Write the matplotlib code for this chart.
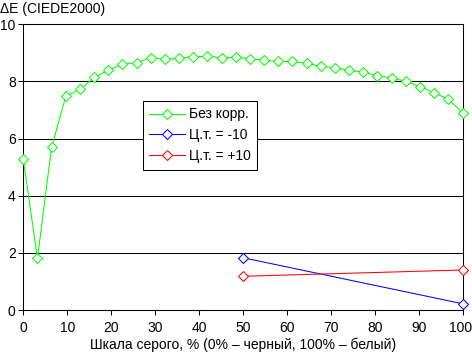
import matplotlib
matplotlib.use("Agg")
import matplotlib.pyplot as plt
import numpy as np

plt.rcParams['font.family'] = ['Liberation Sans', 'DejaVu Sans']

# Data
n_points = 32
x_green = [i * 100 / 31 for i in range(n_points)]
y_green = [5.27, 1.81, 5.70, 7.48, 7.72, 8.14, 8.39, 8.60, 8.66, 8.83,
           8.77, 8.81, 8.87, 8.88, 8.83, 8.84, 8.80, 8.74, 8.70, 8.70,
           8.63, 8.53, 8.48, 8.39, 8.33, 8.20, 8.13, 8.00, 7.82, 7.61,
           7.37, 6.91]
x_blue = [50, 100]
y_blue = [1.83, 0.22]
x_red = [50, 100]
y_red = [1.18, 1.40]
labels = ["Без корр.", "Ц.т. = -10", "Ц.т. = +10"]
xticks = [0, 10, 20, 30, 40, 50, 60, 70, 80, 90, 100]
yticks = [0, 2, 4, 6, 8, 10]

W, H = 472, 353
fig = plt.figure(figsize=(W / 100, H / 100), dpi=100)
l, r, t, b = 23.3, 462.5, 24.3, 310
ax = fig.add_axes([l / W, 1 - b / H, (r - l) / W, (b - t) / H])

lw = 0.75
mk = dict(marker='D', markersize=4.6, markerfacecolor='white', markeredgewidth=0.75,
          linewidth=lw, clip_on=False, zorder=3)
ax.plot(x_green, y_green, color='#00FF00', markeredgecolor='#00FF00', label=labels[0], **mk)
ax.plot(x_blue, y_blue, color='#0000FF', markeredgecolor='#0000FF', label=labels[1], **mk)
ax.plot(x_red, y_red, color='#FF0000', markeredgecolor='#FF0000', label=labels[2], **mk)

ax.set_xlim(0, 100)
ax.set_ylim(0, 10)
ax.set_xticks(xticks)
ax.set_yticks(yticks)
ax.yaxis.grid(True, color='black', linewidth=lw)
ax.set_axisbelow(True)
for s in ax.spines.values():
    s.set_linewidth(lw)
    s.set_color('black')
ax.tick_params(axis='both', direction='out', length=3.5, width=lw, labelsize=10, colors='black')
ax.tick_params(axis='x', pad=4.5)
ax.tick_params(axis='y', pad=2)
# keep the last x label inside the figure
xt_labels = ax.get_xticklabels()

fig.text(0, 1 - 9 / H, "ΔE (CIEDE2000)", fontsize=10, va='center', ha='left')
fig.text((l + r) / 2 / W, 1 - 345 / H, "Шкала серого, % (0% – черный, 100% – белый)",
         fontsize=10, va='center', ha='center')

leg = ax.legend(loc='upper left', bbox_to_anchor=(0.272, 0.731), fontsize=10,
                frameon=True, fancybox=False, shadow=False, framealpha=1,
                edgecolor='black', handlelength=2.6, handletextpad=0.3,
                borderpad=0.45, labelspacing=0.5, borderaxespad=0)
leg.get_frame().set_linewidth(lw)

fig.canvas.draw()
for lab in ax.get_xticklabels():
    if lab.get_text() == '100':
        lab.set_horizontalalignment('right')
        lab.set_x(100)
        import matplotlib.transforms as mtransforms
        lab.set_transform(lab.get_transform() + mtransforms.ScaledTranslation(9.5 / 100, 0, fig.dpi_scale_trans))

fig.savefig("out.png", dpi=100)
